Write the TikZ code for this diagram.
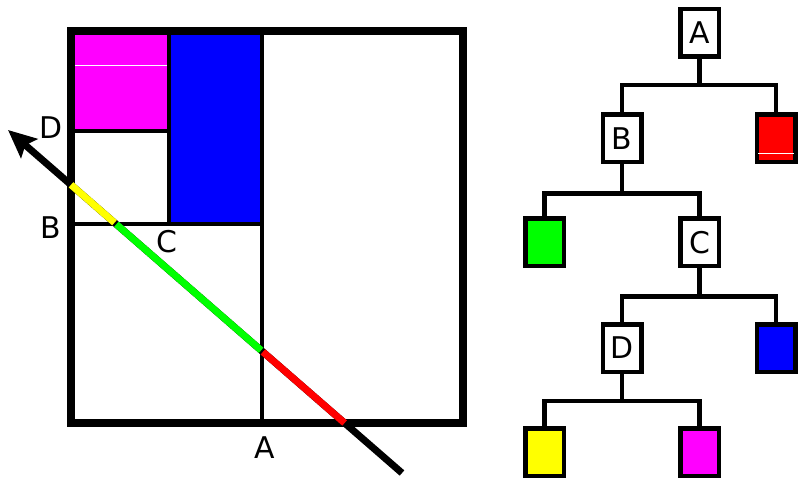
\documentclass[tikz,border=0pt]{standalone}
\usepackage{fontspec}
\setmainfont{DejaVu Sans}
\usetikzlibrary{arrows.meta}
\definecolor{mag}{RGB}{255,0,255}
\definecolor{blu}{RGB}{0,0,255}
\definecolor{grn}{RGB}{0,255,0}
\definecolor{rd}{RGB}{255,0,0}
\definecolor{yel}{RGB}{255,255,0}
\tikzset{
  tbox/.style={draw=black, line width=4.5bp, minimum width=38.5bp, minimum height=47.5bp, inner sep=0pt, font=\fontsize{30}{34}\selectfont},
  tline/.style={line width=4.5bp},
  grid/.style={line width=4bp},
  lab/.style={inner sep=0pt, font=\fontsize{30}{34}\selectfont},
  diag/.style={line width=7bp, line cap=butt},
}
\begin{document}
\begin{tikzpicture}[x=1bp,y=-1bp]
\useasboundingbox (0,0) rectangle (798,480);
% square fills
\fill[mag] (71,31) rectangle (169,131);
\draw[white, line width=0.8bp] (73,65) -- (167,65);
\fill[blu] (169,31) rectangle (262,224);
% grid
\draw[grid] (262,31) -- (262,423);
\draw[grid] (71,224) -- (262,224);
\draw[grid] (169,31) -- (169,224);
\draw[grid] (71,131) -- (169,131);
\draw[line width=8bp] (71,31) rectangle (463,423);
% diagonal
\coordinate (E) at (402,473);
\coordinate (T) at (8,130);
\coordinate (P1) at (71,184.8);
\coordinate (P2) at (115.4,223.5);
\coordinate (P3) at (262,351.1);
\coordinate (P4) at (344.6,423);
\draw[diag, -{Stealth[length=28bp,width=25bp,inset=5bp]}] (E) -- (T);
\draw[diag, yel, shorten >=1.2bp] (P1) -- (P2);
\draw[diag, grn, shorten <=1.2bp, shorten >=1.2bp] (P2) -- (P3);
\draw[diag, rd, shorten <=1.2bp] (P3) -- (P4);
% labels
\node[lab] (lD) at (51,128) {D};
\node[lab] (lB) at (51,228) {B};
\node[lab] (lC) at (167,242) {C};
\node[lab] (lA) at (265,448) {A};
% tree
\node[tbox] (A) at (699.5,33) {A};
\node[tbox] (B) at (622,138.5) {B};
\node[tbox, fill=rd] (R) at (776,138.5) {};
\draw[white, line width=0.8bp] (758,153) -- (794,153);
\node[tbox, fill=grn] (G) at (544.5,242.5) {};
\node[tbox] (C) at (699.5,242.5) {C};
\node[tbox] (D) at (622,348) {D};
\node[tbox, fill=blu] (Bl) at (776,348) {};
\node[tbox, fill=yel] (Y) at (544.5,452) {};
\node[tbox, fill=mag] (M) at (699.5,452) {};
\draw[tline] (A.south) -- ++(0,26) -| (B.north);
\draw[tline] (A.south) ++(0,26) -| (R.north);
\draw[tline] (B.south) -- ++(0,29) -| (G.north);
\draw[tline] (B.south) ++(0,29) -| (C.north);
\draw[tline] (C.south) -- ++(0,28) -| (D.north);
\draw[tline] (C.south) ++(0,28) -| (Bl.north);
\draw[tline] (D.south) -- ++(0,27) -| (Y.north);
\draw[tline] (D.south) ++(0,27) -| (M.north);
\end{tikzpicture}
\end{document}
